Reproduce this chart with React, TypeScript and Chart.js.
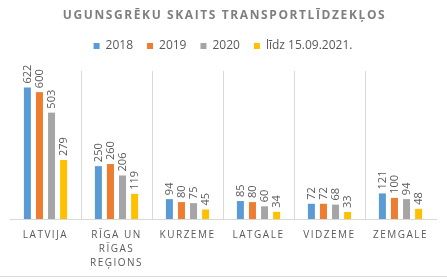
import React, { useEffect, useRef } from "react";
import { Chart, registerables } from "chart.js";

Chart.register(...registerables);

const categories: (string | string[])[] = [
  "LATVIJA",
  ["RĪGA UN", "RĪGAS", "REĢIONS"],
  "KURZEME",
  "LATGALE",
  "VIDZEME",
  "ZEMGALE",
];
const seriesNames = ["2018", "2019", "2020", "līdz 15.09.2021."];
const values2018 = [622, 250, 94, 85, 72, 121];
const values2019 = [600, 260, 80, 80, 72, 100];
const values2020 = [503, 206, 75, 60, 68, 94];
const values2021 = [279, 119, 45, 34, 33, 48];
const colors = ["#5B9BD5", "#ED7D31", "#A5A5A5", "#FFC000"];
const titleText = "UGUNSGRĒKU SKAITS TRANSPORTLĪDZEKĻOS";

const FONT = "'Open Sans', sans-serif";

export default function App() {
  const ref = useRef<HTMLCanvasElement | null>(null);

  useEffect(() => {
    document.body.style.margin = "0";
    const canvas = ref.current;
    if (!canvas) return;
    const allValues = [values2018, values2019, values2020, values2021];

    const legendGap = {
      id: "legendGap",
      beforeInit(chart: any) {
        const legend = chart.legend;
        if (legend && !legend._patched) {
          const orig = legend.fit;
          legend.fit = function (this: any) {
            orig.call(this);
            this.height += 9;
          };
          legend._patched = true;
        }
      },
    };

    const labelPlugin = {
      id: "customLabels",
      afterDatasetsDraw(chart: any) {
        const ctx = chart.ctx;
        chart.data.datasets.forEach((ds: any, i: number) => {
          const meta = chart.getDatasetMeta(i);
          meta.data.forEach((bar: any, j: number) => {
            ctx.save();
            ctx.letterSpacing = "0px";
            ctx.translate(bar.x, bar.y - 4);
            ctx.rotate(-Math.PI / 2);
            ctx.textAlign = "left";
            ctx.textBaseline = "middle";
            ctx.fillStyle = "#595959";
            ctx.font = `11px ${FONT}`;
            ctx.fillText(String(ds.data[j]), 0, 0);
            ctx.restore();
          });
        });
        ctx.letterSpacing = "1.5px";
      },
      afterDraw(chart: any) {
        const ctx = chart.ctx;
        ctx.save();
        ctx.letterSpacing = "1.6px";
        ctx.font = `bold 12px ${FONT}`;
        ctx.fillStyle = "#7F7F7F";
        ctx.textAlign = "center";
        ctx.textBaseline = "middle";
        ctx.fillText(titleText, chart.width / 2 + 1, 16);
        ctx.restore();
        ctx.letterSpacing = "0px";
        ctx.save();
        ctx.strokeStyle = "#D9D9D9";
        ctx.lineWidth = 1;
        ctx.beginPath();
        ctx.moveTo(0, 276.5);
        ctx.lineTo(chart.width, 276.5);
        ctx.stroke();
        ctx.restore();
      },
    };

    const chart = new Chart(canvas, {
      type: "bar",
      data: {
        labels: categories,
        datasets: seriesNames.map((name, i) => ({
          label: name,
          data: allValues[i],
          backgroundColor: colors[i],
          borderWidth: 0,
          categoryPercentage: 0.68,
          barPercentage: 0.58,
        })),
      },
      options: {
        responsive: false,
        animation: false,
        devicePixelRatio: 1,
        layout: { padding: { left: 10, right: 11, top: 26, bottom: 0 } },
        plugins: {
          title: { display: false },
          tooltip: { enabled: false },
          legend: {
            position: "top",
            labels: {
              boxWidth: 6,
              boxHeight: 6,
              padding: 14,
              color: "#595959",
              font: { size: 12, family: FONT },
            },
          },
        },
        scales: {
          x: {
            grid: {
              color: (c: any) =>
                c.index === 0 || c.index === undefined ? "rgba(0,0,0,0)" : "#D9D9D9",
              drawTicks: false,
            },
            border: { color: "#D9D9D9" },
            ticks: {
              color: "#595959",
              font: { size: 10, family: FONT, lineHeight: 1.4 },
              padding: 9,
              maxRotation: 0,
              autoSkip: false,
              z: 1,
            },
          },
          y: {
            display: false,
            min: 0,
            max: 700,
          },
        },
      },
      plugins: [legendGap, labelPlugin],
    });
    return () => chart.destroy();
  }, []);

  return (
    <div style={{ width: 447, height: 279 }}>
      <canvas ref={ref} width={447} height={279} style={{ width: 447, height: 279, display: "block" }} />
    </div>
  );
}
